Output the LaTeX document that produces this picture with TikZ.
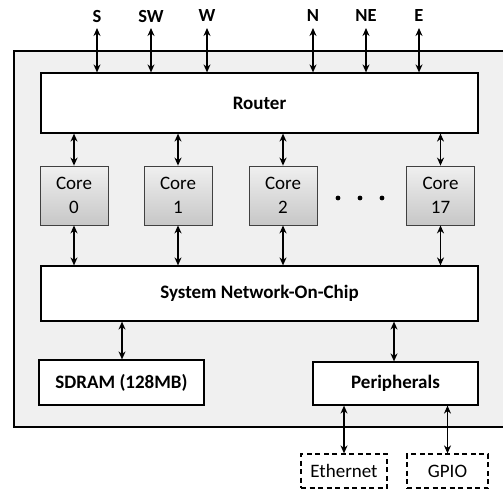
\documentclass[tikz,border=0pt]{standalone}
\usepackage{fontspec}
\setmainfont{Carlito}
\usetikzlibrary{arrows.meta}
\begin{document}
\begin{tikzpicture}[x=1pt,y=-1pt,
  box/.style={draw, line width=1.2pt, fill=white, inner sep=0pt, font=\bfseries\fontsize{19}{22}\selectfont},
  corebox/.style={draw=black!75, line width=0.8pt, top color=black!6, bottom color=black!22, inner sep=0pt,
    minimum width=68pt, minimum height=59pt, align=center, font=\fontsize{19}{24}\selectfont},
  extbox/.style={draw, dashed, dash pattern=on 5pt off 3.5pt, line width=1.2pt, inner sep=0pt,
    minimum height=34pt, font=\fontsize{19}{22}\selectfont},
  port/.style={font=\bfseries\fontsize{18.5}{21}\selectfont, inner sep=0pt},
  link/.style={{Stealth[length=8pt,width=7pt]}-{Stealth[length=8pt,width=7pt]}, line width=1.6pt}]
\useasboundingbox (0,0) rectangle (503,490);
% chip outline (runs off the right edge)
\draw[line width=1.2pt, fill=black!6] (520,51) -- (14,51) -- (14,427) -- (520,427);

% router and network-on-chip
\node[box, minimum width=437pt, minimum height=60pt] (router) at (259.5,103) {Router};
\node[box, minimum width=437pt, minimum height=55pt] (noc) at (259.5,293.5) {System Network-On-Chip};

% external ports
\foreach \n/\x in {S/97, SW/151, W/207, N/313, NE/366, E/419}{
  \node[port] (p\n) at (\x,16) {\n};
  \coordinate (t\n) at (\x,28);
  \draw[link] (t\n) -- (t\n |- router.north);
}

% cores
\node[corebox] (c0) at (74,195.5) {Core\\0};
\node[corebox] (c1) at (178,195.5) {Core\\1};
\node[corebox] (c2) at (283,195.5) {Core\\2};
\node[corebox] (c17) at (440.5,195.5) {Core\\17};
\foreach \c in {c0,c1,c2,c17}{
  \draw[link] (\c.north) -- (\c.north |- router.south);
  \draw[link] (\c.south) -- (\c.south |- noc.north);
}
\foreach \x in {338,360,382}
  \fill (\x,198) circle (2.4pt);

% memory and peripherals
\node[box, minimum width=165pt, minimum height=45pt] (sdram) at (121.5,382.5) {SDRAM (128MB)};
\node[box, minimum width=165pt, minimum height=43pt] (periph) at (395.5,383.5) {Peripherals};
\draw[link] (122,0 |- sdram.north) -- (122,0 |- noc.south);
\draw[link] (394,0 |- periph.north) -- (394,0 |- noc.south);

% off-chip interfaces
\node[extbox, minimum width=86pt] (eth) at (344,471) {Ethernet};
\node[extbox, minimum width=81pt] (gpio) at (447.5,471) {GPIO};
\draw[link] (eth.north) -- (eth.north |- periph.south);
\draw[link] (gpio.north) -- (gpio.north |- periph.south);
\end{tikzpicture}
\end{document}
